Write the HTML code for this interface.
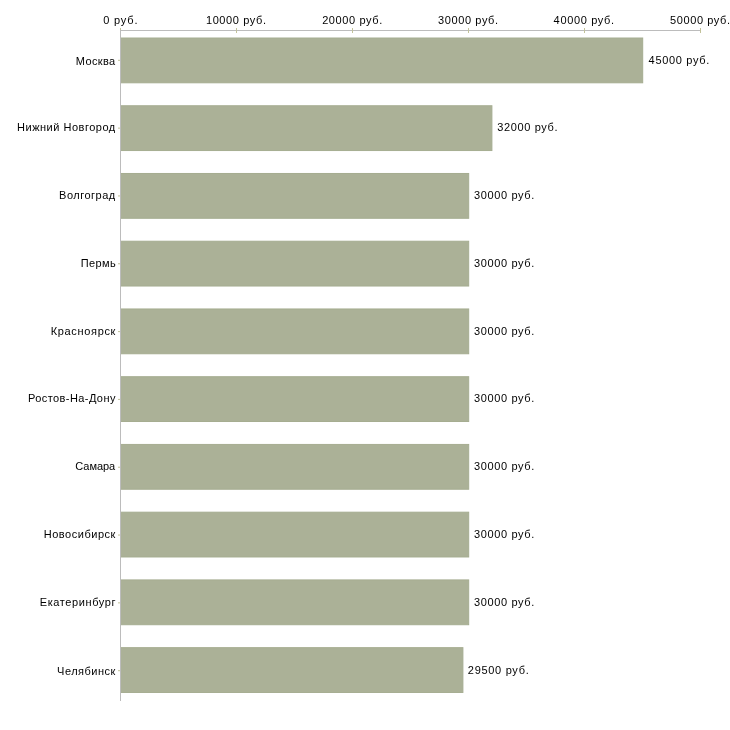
<!DOCTYPE html><html><head><meta charset="utf-8"><style>html,body{margin:0;padding:0;background:#fff;width:730px;height:730px;overflow:hidden}svg{display:block;will-change:transform}text{font-family:"Liberation Sans",sans-serif;font-size:11px;fill:#000}</style></head><body>
<svg width="730" height="730" viewBox="0 0 730 730">
<rect x="120.50" y="38.00" width="522.20" height="44.80" fill="#abb197" stroke="#a6ad91" stroke-width="1"/>
<rect x="120.50" y="105.74" width="371.40" height="44.80" fill="#abb197" stroke="#a6ad91" stroke-width="1"/>
<rect x="120.50" y="173.48" width="348.20" height="44.80" fill="#abb197" stroke="#a6ad91" stroke-width="1"/>
<rect x="120.50" y="241.22" width="348.20" height="44.80" fill="#abb197" stroke="#a6ad91" stroke-width="1"/>
<rect x="120.50" y="308.96" width="348.20" height="44.80" fill="#abb197" stroke="#a6ad91" stroke-width="1"/>
<rect x="120.50" y="376.70" width="348.20" height="44.80" fill="#abb197" stroke="#a6ad91" stroke-width="1"/>
<rect x="120.50" y="444.44" width="348.20" height="44.80" fill="#abb197" stroke="#a6ad91" stroke-width="1"/>
<rect x="120.50" y="512.18" width="348.20" height="44.80" fill="#abb197" stroke="#a6ad91" stroke-width="1"/>
<rect x="120.50" y="579.92" width="348.20" height="44.80" fill="#abb197" stroke="#a6ad91" stroke-width="1"/>
<rect x="120.50" y="647.66" width="342.40" height="44.80" fill="#abb197" stroke="#a6ad91" stroke-width="1"/>
<g shape-rendering="crispEdges">
<rect x="120" y="28" width="1" height="5" fill="#c2c29a"/>
<rect x="236" y="28" width="1" height="5" fill="#c2c29a"/>
<rect x="352" y="28" width="1" height="5" fill="#c2c29a"/>
<rect x="468" y="28" width="1" height="5" fill="#c2c29a"/>
<rect x="584" y="28" width="1" height="5" fill="#c2c29a"/>
<rect x="700" y="28" width="1" height="5" fill="#c2c29a"/>
<rect x="120" y="30" width="581" height="1" fill="#bcbcbc"/>
<rect x="120" y="30" width="1" height="671" fill="#bcbcbc"/>
<rect x="236" y="28" width="1" height="5" fill="#c2c29a"/>
<rect x="352" y="28" width="1" height="5" fill="#c2c29a"/>
<rect x="468" y="28" width="1" height="5" fill="#c2c29a"/>
<rect x="584" y="28" width="1" height="5" fill="#c2c29a"/>
<rect x="700" y="28" width="1" height="5" fill="#c2c29a"/>
</g>
<rect x="118" y="59.80" width="2" height="1" fill="#c2c29a"/>
<rect x="118" y="127.62" width="2" height="1" fill="#c2c29a"/>
<rect x="118" y="195.44" width="2" height="1" fill="#c2c29a"/>
<rect x="118" y="263.26" width="2" height="1" fill="#c2c29a"/>
<rect x="118" y="331.08" width="2" height="1" fill="#c2c29a"/>
<rect x="118" y="398.90" width="2" height="1" fill="#c2c29a"/>
<rect x="118" y="466.72" width="2" height="1" fill="#c2c29a"/>
<rect x="118" y="534.54" width="2" height="1" fill="#c2c29a"/>
<rect x="118" y="602.36" width="2" height="1" fill="#c2c29a"/>
<rect x="118" y="670.18" width="2" height="1" fill="#c2c29a"/>
<text x="103.21" y="24" textLength="34.26" lengthAdjust="spacing">0 руб.</text>
<text x="205.91" y="24" textLength="60.05" lengthAdjust="spacing">10000 руб.</text>
<text x="322.13" y="24" textLength="60.16" lengthAdjust="spacing">20000 руб.</text>
<text x="438.11" y="24" textLength="59.94" lengthAdjust="spacing">30000 руб.</text>
<text x="553.62" y="24" textLength="60.50" lengthAdjust="spacing">40000 руб.</text>
<text x="670.02" y="24" textLength="60.03" lengthAdjust="spacing">50000 руб.</text>
<text x="75.83" y="65" textLength="39.41" lengthAdjust="spacing">Москва</text>
<text x="648.59" y="64" textLength="60.69" lengthAdjust="spacing">45000 руб.</text>
<text x="17.02" y="131" textLength="98.22" lengthAdjust="spacing">Нижний Новгород</text>
<text x="497.30" y="131" textLength="60.18" lengthAdjust="spacing">32000 руб.</text>
<text x="59.07" y="199" textLength="56.16" lengthAdjust="spacing">Волгоград</text>
<text x="474.02" y="199" textLength="60.27" lengthAdjust="spacing">30000 руб.</text>
<text x="80.84" y="267" textLength="34.88" lengthAdjust="spacing">Пермь</text>
<text x="474.02" y="267" textLength="60.27" lengthAdjust="spacing">30000 руб.</text>
<text x="50.73" y="335" textLength="64.69" lengthAdjust="spacing">Красноярск</text>
<text x="474.02" y="335" textLength="60.27" lengthAdjust="spacing">30000 руб.</text>
<text x="28.02" y="402" textLength="87.37" lengthAdjust="spacing">Ростов-На-Дону</text>
<text x="474.02" y="402" textLength="60.27" lengthAdjust="spacing">30000 руб.</text>
<text x="75.29" y="470" textLength="39.95" lengthAdjust="spacing">Самара</text>
<text x="474.02" y="470" textLength="60.27" lengthAdjust="spacing">30000 руб.</text>
<text x="43.73" y="538" textLength="71.69" lengthAdjust="spacing">Новосибирск</text>
<text x="474.02" y="538" textLength="60.27" lengthAdjust="spacing">30000 руб.</text>
<text x="39.73" y="606" textLength="75.75" lengthAdjust="spacing">Екатеринбург</text>
<text x="474.02" y="606" textLength="60.27" lengthAdjust="spacing">30000 руб.</text>
<text x="57.04" y="675" textLength="58.38" lengthAdjust="spacing">Челябинск</text>
<text x="467.82" y="674" textLength="60.94" lengthAdjust="spacing">29500 руб.</text>
</svg></body></html>
